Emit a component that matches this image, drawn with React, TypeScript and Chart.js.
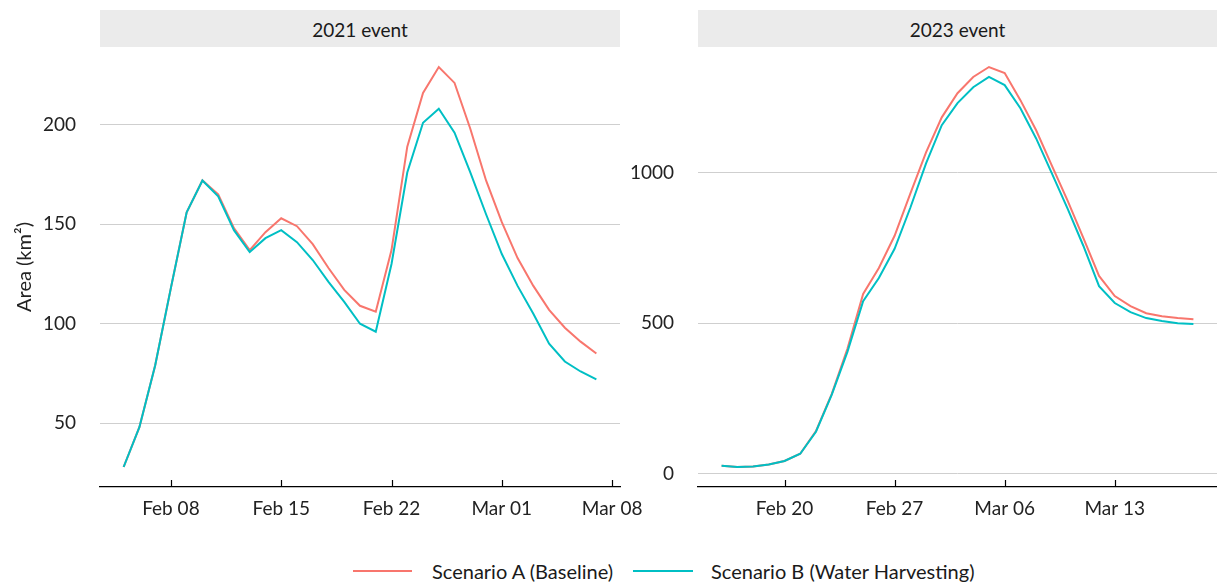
import React, { useEffect, useRef } from "react";
import { Chart, registerables } from "chart.js";
Chart.register(...registerables);

// ---------- data ----------
const dates2021 = [
  "2021-02-05", "2021-02-06", "2021-02-07", "2021-02-08", "2021-02-09", "2021-02-10", "2021-02-11",
  "2021-02-12", "2021-02-13", "2021-02-14", "2021-02-15", "2021-02-16", "2021-02-17", "2021-02-18",
  "2021-02-19", "2021-02-20", "2021-02-21", "2021-02-22", "2021-02-23", "2021-02-24", "2021-02-25",
  "2021-02-26", "2021-02-27", "2021-02-28", "2021-03-01", "2021-03-02", "2021-03-03", "2021-03-04",
  "2021-03-05", "2021-03-06", "2021-03-07",
];
const scenarioA2021 = [28, 48, 79, 118, 156, 172, 165, 148, 137, 146, 153, 149, 140, 128, 117, 109, 106, 137, 189, 216, 229, 221, 198, 172, 151, 133, 119, 107, 98, 91, 85];
const scenarioB2021 = [28, 48, 79, 118, 156, 172, 164, 147, 136, 143, 147, 141, 132, 121, 111, 100, 96, 130, 176, 201, 208, 196, 176, 155, 135, 119, 105, 90, 81, 76, 72];

const dates2023 = [
  "2023-02-16", "2023-02-17", "2023-02-18", "2023-02-19", "2023-02-20", "2023-02-21", "2023-02-22",
  "2023-02-23", "2023-02-24", "2023-02-25", "2023-02-26", "2023-02-27", "2023-02-28", "2023-03-01",
  "2023-03-02", "2023-03-03", "2023-03-04", "2023-03-05", "2023-03-06", "2023-03-07", "2023-03-08",
  "2023-03-09", "2023-03-10", "2023-03-11", "2023-03-12", "2023-03-13", "2023-03-14", "2023-03-15",
  "2023-03-16", "2023-03-17", "2023-03-18",
];
const scenarioA2023 = [27, 23, 25, 31, 43, 67, 142, 265, 415, 597, 683, 790, 930, 1067, 1183, 1263, 1317, 1350, 1330, 1240, 1140, 1023, 907, 783, 657, 590, 557, 533, 523, 517, 513];
const scenarioB2023 = [27, 23, 25, 31, 43, 67, 140, 262, 405, 573, 650, 747, 883, 1030, 1157, 1230, 1283, 1317, 1290, 1213, 1113, 997, 880, 757, 623, 567, 537, 517, 507, 500, 497];

const xTicks2021 = ["2021-02-08", "2021-02-15", "2021-02-22", "2021-03-01", "2021-03-08"];
const xTicks2023 = ["2023-02-20", "2023-02-27", "2023-03-06", "2023-03-13"];
const yTicks2021 = [50, 100, 150, 200];
const yTicks2023 = [0, 500, 1000];

const seriesNames = ["Scenario A (Baseline)", "Scenario B (Water Harvesting)"];
const seriesColors = ["#F8766D", "#00BFC4"];
const panelTitles = ["2021 event", "2023 event"];
const yTitle = "Area (km²)";

// ---------- helpers ----------
const FONT = "Lato";
const FS = 19;
const MONTHS = ["Jan", "Feb", "Mar", "Apr", "May", "Jun", "Jul", "Aug", "Sep", "Oct", "Nov", "Dec"];
const dayNum = (s: string) =>
  Date.UTC(+s.slice(0, 4), +s.slice(5, 7) - 1, +s.slice(8, 10)) / 86400000;
const fmtDay = (d: number) => {
  const dt = new Date(Math.round(d) * 86400000);
  return MONTHS[dt.getUTCMonth()] + " " + String(dt.getUTCDate()).padStart(2, "0");
};

const upTicks = {
  id: "upTicks",
  afterDraw(chart: any) {
    const xs = chart.scales.x;
    const ctx = chart.ctx;
    ctx.save();
    ctx.strokeStyle = "#000";
    ctx.lineWidth = 1.2;
    xs.ticks.forEach((t: any) => {
      const px = Math.round(xs.getPixelForValue(t.value)) + 0.5;
      ctx.beginPath();
      ctx.moveTo(px, xs.top);
      ctx.lineTo(px, xs.top - 7);
      ctx.stroke();
    });
    ctx.restore();
  },
};

function makeConfig(
  dates: string[],
  a: number[],
  b: number[],
  xTicks: string[],
  yTicks: number[],
  yAxisWidth: number,
  padRight: number,
  showTitle: boolean
): any {
  const xs = dates.map(dayNum);
  const xSpan = xs[xs.length - 1] - xs[0];
  const all = a.concat(b);
  const yMin = Math.min(...all);
  const yMax = Math.max(...all);
  const ySpan = yMax - yMin;
  return {
    type: "line",
    data: {
      datasets: [
        {
          label: seriesNames[0],
          data: xs.map((x, i) => ({ x, y: a[i] })),
          borderColor: seriesColors[0],
          borderWidth: 2,
          pointRadius: 0,
          tension: 0,
          order: 1,
        },
        {
          label: seriesNames[1],
          data: xs.map((x, i) => ({ x, y: b[i] })),
          borderColor: seriesColors[1],
          borderWidth: 2,
          pointRadius: 0,
          tension: 0,
          order: 0,
        },
      ],
    },
    options: {
      animation: false,
      responsive: false,
      maintainAspectRatio: false,
      layout: { padding: { left: 0, right: padRight, top: 0, bottom: 0 } },
      plugins: { legend: { display: false }, tooltip: { enabled: false } },
      scales: {
        x: {
          type: "linear",
          min: xs[0] - 0.05 * xSpan,
          max: xs[xs.length - 1] + 0.05 * xSpan,
          afterBuildTicks: (s: any) => {
            s.ticks = xTicks.map((t) => ({ value: dayNum(t) }));
          },
          afterFit: (s: any) => {
            s.height = 60;
            s.paddingLeft = 0;
            s.paddingRight = 0;
          },
          grid: { display: false, drawTicks: false },
          border: { display: true, color: "#000", width: 1.2 },
          ticks: {
            autoSkip: false,
            maxRotation: 0,
            padding: 10,
            color: "#222",
            font: { family: FONT, size: FS },
            callback: (v: any) => fmtDay(Number(v)),
          },
        },
        y: {
          type: "linear",
          min: yMin - 0.05 * ySpan,
          max: yMax + 0.05 * ySpan,
          afterBuildTicks: (s: any) => {
            s.ticks = yTicks.map((t) => ({ value: t }));
          },
          afterFit: (s: any) => {
            s.width = yAxisWidth;
            s.paddingTop = 0;
            s.paddingBottom = 0;
          },
          grid: { display: true, color: "#cfcfcf", lineWidth: 1, drawTicks: false },
          border: { display: false },
          ticks: {
            padding: 24,
            color: "#222",
            font: { family: FONT, size: FS },
            callback: (v: any) => String(v),
          },
          title: {
            display: showTitle,
            text: yTitle,
            color: "#222",
            font: { family: FONT, size: 20 },
            padding: { top: 13, bottom: 0 },
          },
        },
      },
    },
    plugins: [upTicks],
  };
}

function Panel(props: { config: any; left: number; top: number; width: number; height: number }) {
  const ref = useRef<HTMLCanvasElement | null>(null);
  useEffect(() => {
    if (!ref.current) return;
    const chart = new Chart(ref.current, props.config);
    return () => chart.destroy();
  }, []);
  return (
    <canvas
      ref={ref}
      width={props.width}
      height={props.height}
      style={{ position: "absolute", left: props.left, top: props.top, width: props.width, height: props.height }}
    />
  );
}

export default function App() {
  const leftCfg = makeConfig(dates2021, scenarioA2021, scenarioB2021, xTicks2021, yTicks2021, 100, 40, true);
  const rightCfg = makeConfig(dates2023, scenarioA2023, scenarioB2023, xTicks2023, yTicks2023, 78, 0, false);
  const stripStyle = (left: number, width: number): React.CSSProperties => ({
    position: "absolute",
    left,
    top: 10,
    width,
    height: 37,
    background: "#ebebeb",
    color: "#1a1a1a",
    fontFamily: FONT,
    fontSize: FS,
    lineHeight: "39px",
    textAlign: "center",
  });
  const legText: React.CSSProperties = {
    position: "absolute",
    top: 557,
    fontFamily: FONT,
    fontSize: 20,
    lineHeight: "28px",
    color: "#1a1a1a",
    whiteSpace: "nowrap",
  };
  return (
    <div style={{ position: "absolute", left: 0, top: 0, width: 1217, height: 586, background: "#fff", overflow: "hidden" }}>
      <div style={stripStyle(100, 520)}>{panelTitles[0]}</div>
      <div style={stripStyle(698, 519)}>{panelTitles[1]}</div>
      <Panel config={leftCfg} left={0} top={47} width={660} height={500} />
      <Panel config={rightCfg} left={620} top={47} width={597} height={500} />
      <div style={{ position: "absolute", left: 353, top: 570, width: 59, height: 2, background: seriesColors[0] }} />
      <div style={{ ...legText, left: 432 }}>{seriesNames[0]}</div>
      <div style={{ position: "absolute", left: 633, top: 570, width: 60, height: 2, background: seriesColors[1] }} />
      <div style={{ ...legText, left: 711 }}>{seriesNames[1]}</div>
    </div>
  );
}
